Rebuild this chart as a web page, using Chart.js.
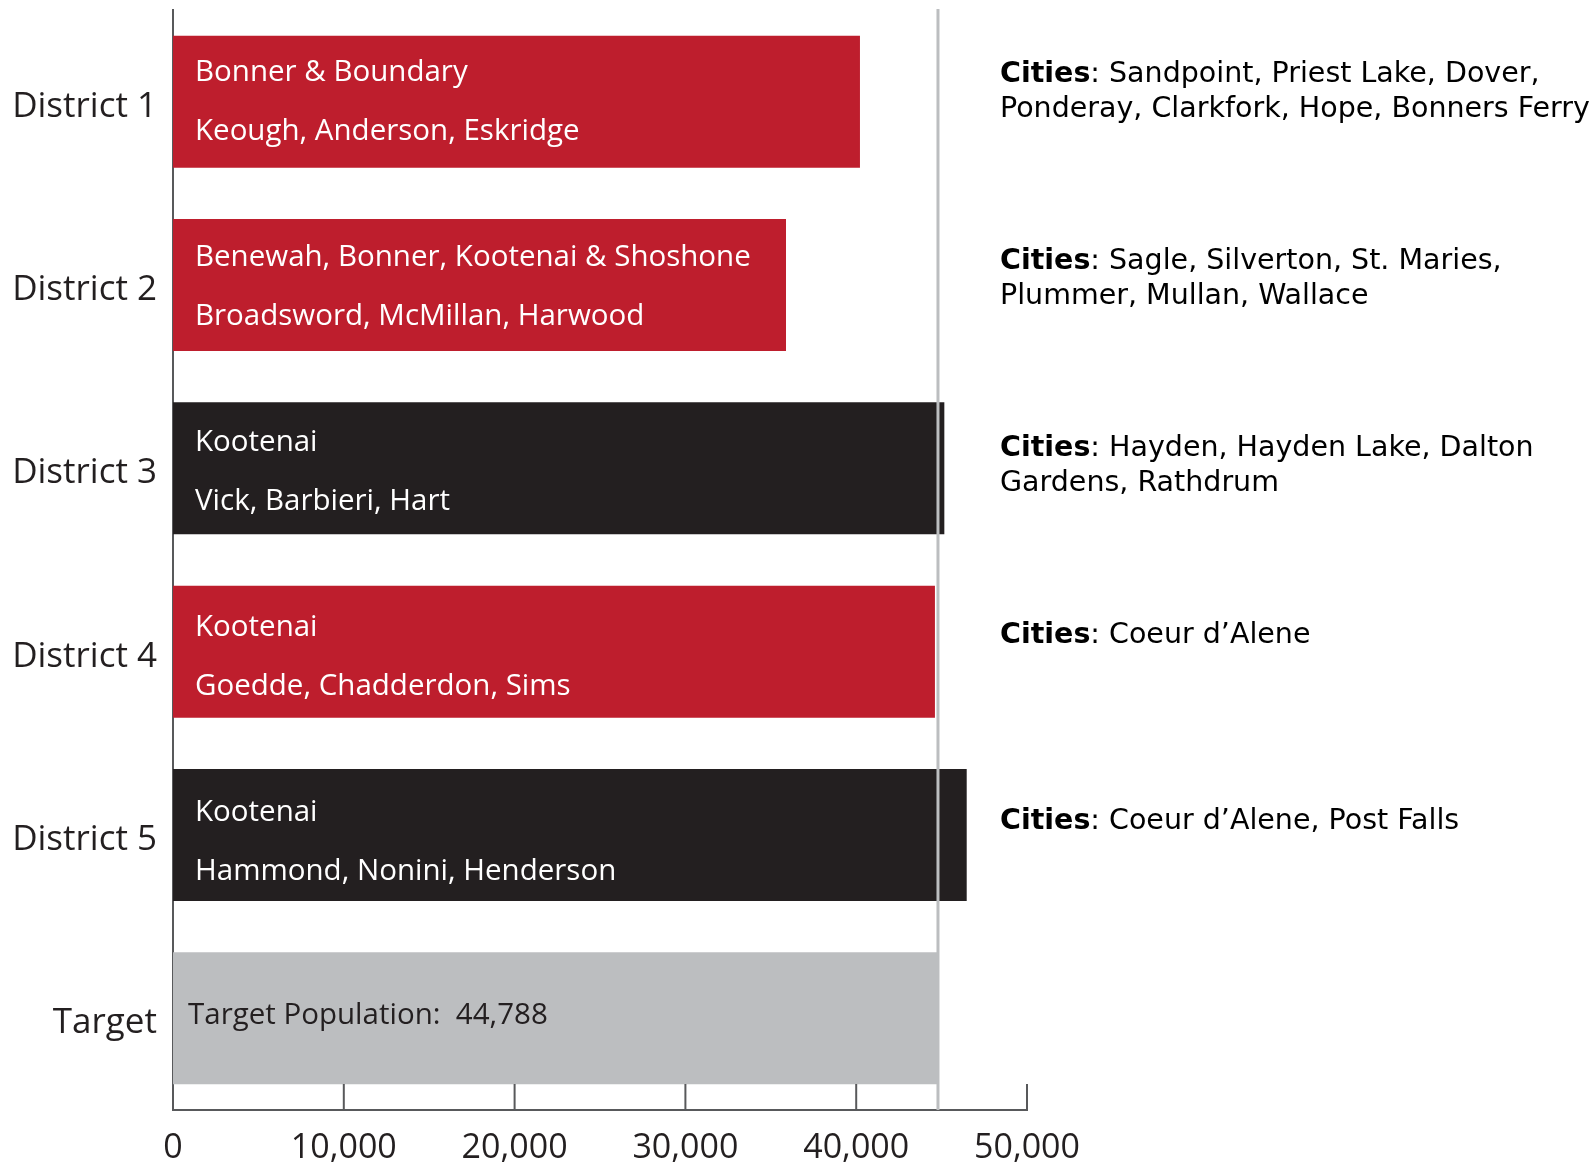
<!DOCTYPE html>
<html>
<head>
<meta charset="utf-8">
<script src="https://cdn.jsdelivr.net/npm/chart.js@4.4.1/dist/chart.umd.min.js"></script>
<style>
    body { margin: 0; background: #fff; }
    #wrap { width: 1595px; height: 1163px; }
</style>
</head>
<body>
<div id="wrap"><canvas id="chart" width="1595" height="1163"></canvas></div>
<script>
const districts = ['District 1', 'District 2', 'District 3', 'District 4', 'District 5', 'Target'];
const populations = [40220, 35890, 45160, 44610, 46470, 44788];
const targetPopulation = 44788;
const xTicks = [0, 10000, 20000, 30000, 40000, 50000];

const counties = [
    ['Bonner & Boundary', 'Keough, Anderson, Eskridge'],
    ['Benewah, Bonner, Kootenai & Shoshone', 'Broadsword, McMillan, Harwood'],
    ['Kootenai', 'Vick, Barbieri, Hart'],
    ['Kootenai', 'Goedde, Chadderdon, Sims'],
    ['Kootenai', 'Hammond, Nonini, Henderson'],
];
const cities = [
    ['Sandpoint, Priest Lake, Dover,', 'Ponderay, Clarkfork, Hope, Bonners Ferry'],
    ['Sagle, Silverton, St. Maries,', 'Plummer, Mullan, Wallace'],
    ['Hayden, Hayden Lake, Dalton', 'Gardens, Rathdrum'],
    ['Coeur d\u2019Alene'],
    ['Coeur d\u2019Alene, Post Falls'],
];

const RED = '#BE1E2D';
const BLACK = '#231F20';
const GREY = '#BCBEC0';
const AXIS = '#58595B';
const LABEL_FONT = '"Open Sans", sans-serif';
const CITY_FONT = '"DejaVu Sans", Verdana, sans-serif';

// ticks, target line and all the text that sits on / beside the bars
const annotations = {
    id: 'annotations',
    afterDatasetsDraw(chart) {
        const { ctx, chartArea, scales: { x, y } } = chart;
        ctx.save();

        // target line
        const tx = x.getPixelForValue(targetPopulation);
        ctx.strokeStyle = GREY;
        ctx.lineWidth = 3;
        ctx.beginPath();
        ctx.moveTo(tx, chartArea.top - 1);
        ctx.lineTo(tx, chartArea.bottom);
        ctx.stroke();

        // inner ticks on the x axis
        ctx.strokeStyle = AXIS;
        ctx.lineWidth = 2;
        xTicks.slice(1).forEach((v) => {
            const px = x.getPixelForValue(v);
            ctx.beginPath();
            ctx.moveTo(px, chartArea.bottom);
            ctx.lineTo(px, chartArea.bottom - 26);
            ctx.stroke();
        });

        // county / legislator text in bars
        ctx.textBaseline = 'middle';
        ctx.textAlign = 'left';
        ctx.font = `29.5px ${LABEL_FONT}`;
        ctx.fillStyle = '#fff';
        counties.forEach((lines, i) => {
            const cy = y.getPixelForValue(i) + i * 1.6;
            ctx.fillText(lines[0], chartArea.left + 22, cy - 29);
            ctx.fillText(lines[1], chartArea.left + 22, cy + 30);
        });
        ctx.fillStyle = BLACK;
        ctx.fillText('Target Population:  ' + targetPopulation.toLocaleString('en-US'),
            chartArea.left + 15, y.getPixelForValue(5) - 3);

        // cities to the right
        const cxLeft = 1000;
        cities.forEach((lines, i) => {
            const cy = y.getPixelForValue(i) - 27 + i * 3.5;
            ctx.fillStyle = '#000';
            ctx.font = `bold 28.5px ${CITY_FONT}`;
            ctx.fillText('Cities', cxLeft, cy);
            const w = ctx.measureText('Cities').width;
            ctx.font = `28.5px ${CITY_FONT}`;
            ctx.fillText(': ' + lines[0], cxLeft + w, cy);
            if (lines[1]) ctx.fillText(lines[1], cxLeft, cy + 35);
        });

        ctx.restore();
    }
};

new Chart(document.getElementById('chart'), {
    type: 'bar',
    data: {
        labels: districts,
        datasets: [{
            data: populations,
            backgroundColor: [RED, RED, BLACK, RED, BLACK, GREY],
            borderWidth: 0,
            barPercentage: 0.72,
            categoryPercentage: 1,
        }],
    },
    options: {
        indexAxis: 'y',
        responsive: false,
        animation: false,
        layout: { padding: { left: 0, right: 568, top: 10, bottom: 0 } },
        plugins: { legend: { display: false }, tooltip: { enabled: false } },
        scales: {
            y: {
                grid: { display: false, drawTicks: false },
                border: { color: AXIS, width: 2 },
                ticks: { color: BLACK, padding: 16, labelOffset: 5, font: { family: LABEL_FONT, size: 35 } },
                afterFit: (s) => { s.width = 173; s.paddingTop = 0; s.paddingBottom = 0; },
            },
            x: {
                min: 0,
                max: 50000,
                grid: { display: false, drawTicks: false },
                border: { color: AXIS, width: 2 },
                ticks: {
                    stepSize: 10000,
                    color: BLACK,
                    padding: 18,
                    font: { family: LABEL_FONT, size: 34 },
                    callback: (v) => v.toLocaleString('en-US'),
                },
                afterFit: (s) => { s.height = 53; },
            },
        },
    },
    plugins: [annotations],
});
</script>
</body>
</html>
